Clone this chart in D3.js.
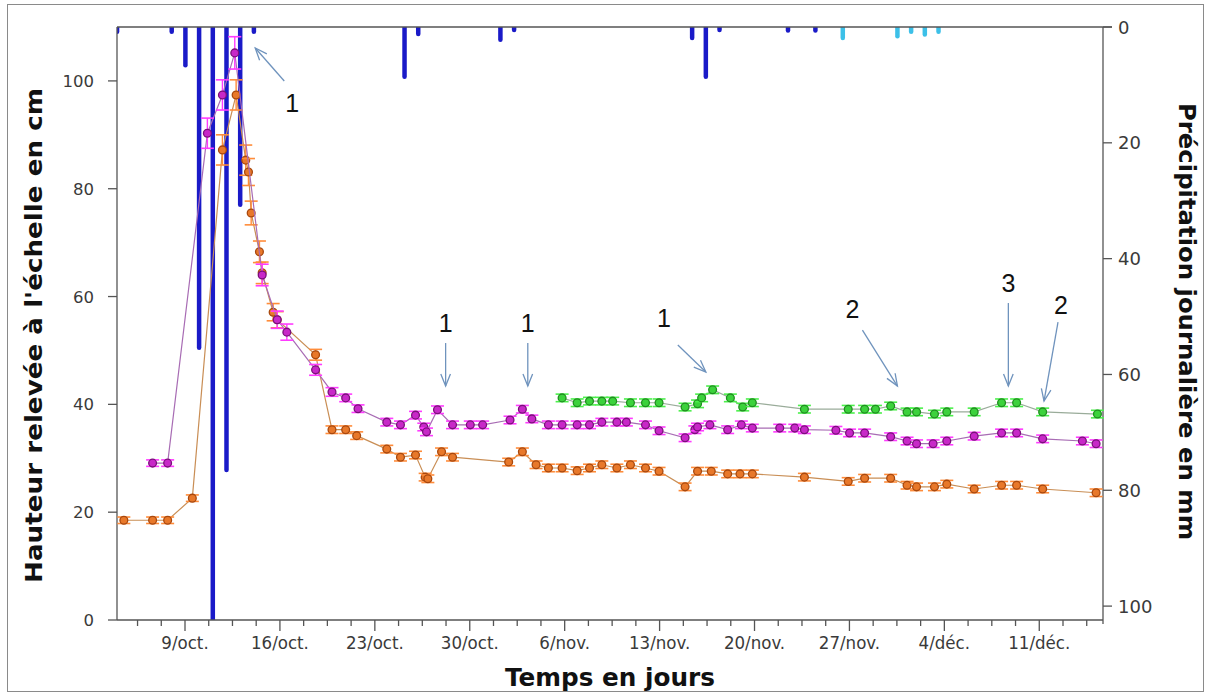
<!DOCTYPE html>
<html><head><meta charset="utf-8">
<script src="https://cdn.jsdelivr.net/npm/d3@7"></script>
<style>body{margin:0;background:#fff} svg{display:block}</style>
</head><body><svg id="c" width="1209" height="695"></svg>
<script>
// ---------- DATA ----------
// x values are day numbers counted from 0 October (1 = 1/oct., 32 = 1/nov., 62 = 1/déc.)
const xTickDays   = [9, 16, 23, 30, 37, 44, 51, 58, 65, 72];
const xTickLabels = ["9/oct.", "16/oct.", "23/oct.", "30/oct.", "6/nov.", "13/nov.", "20/nov.", "27/nov.", "4/déc.", "11/déc."];
const yLeftTicks  = [0, 20, 40, 60, 80, 100];
const yRightTicks = [0, 20, 40, 60, 80, 100];

// daily precipitation [day, mm]
const precipDark = [[3.99,0.8],[8.02,0.8],[9.03,6.6],[10.04,55.4],[11.05,103],[12.06,76.5],[13.07,30.7],[14.08,0.8],
                    [25.19,8.6],[26.2,1.2],[32.26,2.2],[33.27,0.5],[46.4,1.9],[47.41,8.6],[48.42,0.5],[53.47,0.6],[55.49,0.6]];
const precipCyan = [[57.51,1.9],[61.54,1.6],[62.55,0.8],[63.56,1.3],[64.57,0.8]];

// gauge height [day, cm, error cm]
const seriesOrange = [
 [4.49,18.5,0.6],[6.61,18.5,0.6],[7.72,18.5,0.6],[9.54,22.6,0.6],[11.76,87.2,2.8],[12.77,97.4,2.8],
 [13.48,85.3,2.8],[13.68,83.1,2.5],[13.88,75.5,2.2],[14.49,68.3,2],[14.69,64.4,2],[15.5,57.1,1.6],
 [15.8,55.7,1.5],[18.63,49.2,1],[19.84,35.3,0.7],[20.85,35.3,0.7],[21.66,34.2,0.7],[23.88,31.7,0.7],
 [24.89,30.2,0.7],[26.0,30.6,0.7],[26.71,26.5,0.7],[26.91,26.2,0.7],[27.92,31.2,0.7],[28.73,30.2,0.7],
 [32.87,29.3,0.7],[33.88,31.2,0.7],[34.89,28.8,0.7],[35.8,28.2,0.7],[36.81,28.2,0.7],[37.92,27.7,0.7],
 [38.83,28.2,0.7],[39.74,28.8,0.7],[40.85,28.2,0.7],[41.85,28.8,0.7],[42.96,28.2,0.7],[43.96,27.6,0.7],
 [45.88,24.7,0.7],[46.8,27.6,0.7],[47.81,27.6,0.7],[49.02,27.1,0.7],[49.93,27.1,0.7],[50.84,27.1,0.7],
 [54.68,26.5,0.7],[57.91,25.7,0.7],[59.12,26.3,0.7],[61.04,26.3,0.7],[62.25,25.0,0.7],[62.95,24.7,0.7],
 [64.27,24.7,0.7],[65.18,25.2,0.7],[67.2,24.3,0.7],[69.22,25.0,0.7],[70.33,25.0,0.7],[72.25,24.3,0.7],
 [76.19,23.6,0.7]];
const seriesMagenta = [
 [6.61,29.1,0.6],[7.72,29.1,0.6],[10.65,90.3,2.8],[11.76,97.4,2.8],[12.67,105.2,3],[14.69,64.0,2],
 [15.8,55.7,1.6],[16.51,53.4,1.5],[18.63,46.4,1],[19.84,42.3,0.8],[20.85,41.2,0.7],[21.76,39.2,0.7],
 [23.88,36.7,0.7],[24.89,36.2,0.7],[26.0,38.0,0.7],[26.61,35.8,0.7],[26.81,34.9,0.7],[27.62,39.0,0.7],
 [28.73,36.2,0.7],[30.04,36.2,0.7],[30.95,36.2,0.7],[32.97,37.1,0.7],[33.88,39.1,0.7],[34.58,37.3,0.7],
 [35.8,36.2,0.7],[36.81,36.2,0.7],[37.92,36.2,0.7],[38.83,36.2,0.7],[39.74,36.7,0.7],[40.85,36.7,0.7],
 [41.55,36.7,0.7],[42.96,36.2,0.7],[43.96,35.1,0.7],[45.88,33.8,0.7],[46.6,35.3,0.7],[46.8,35.8,0.7],
 [47.71,36.2,0.7],[49.02,35.3,0.7],[50.03,36.2,0.7],[50.84,35.6,0.7],[52.86,35.6,0.7],[53.97,35.6,0.7],
 [54.68,35.3,0.7],[57.0,35.2,0.7],[58.01,34.7,0.7],[59.12,34.7,0.7],[61.04,34.0,0.7],[62.25,33.2,0.7],
 [62.95,32.7,0.7],[64.17,32.7,0.7],[65.18,33.2,0.7],[67.2,34.1,0.7],[69.22,34.7,0.7],[70.33,34.7,0.7],
 [72.25,33.6,0.7],[75.18,33.2,0.7],[76.19,32.7,0.7]];
const seriesGreen = [
 [36.81,41.2,0.7],[37.92,40.3,0.7],[38.83,40.6,0.7],[39.74,40.6,0.7],[40.54,40.6,0.7],[41.85,40.3,0.7],
 [42.96,40.3,0.7],[43.96,40.3,0.7],[45.88,39.5,0.7],[46.8,40.1,0.7],[47.1,41.2,0.7],[47.91,42.7,0.7],
 [49.22,41.2,0.7],[50.13,39.5,0.7],[50.84,40.3,0.7],[54.68,39.1,0.7],[57.91,39.1,0.7],[59.12,39.1,0.7],
 [59.92,39.1,0.7],[61.04,39.7,0.7],[62.25,38.6,0.7],[62.95,38.6,0.7],[64.27,38.2,0.7],[65.18,38.6,0.7],
 [67.2,38.6,0.7],[69.22,40.3,0.7],[70.33,40.3,0.7],[72.25,38.6,0.7],[76.29,38.2,0.7]];

// annotations: label, arrow tip [day, cm], tail offset from tip (px), label offset from tip (px)
const annotations = [
 {t:"1", tip:[14.18,106.1], tail:[29,33], lab:[37,64]},
 {t:"1", tip:[28.22,43.4], tail:[0,-43], lab:[0,-54]},
 {t:"1", tip:[34.28,43.4], tail:[0,-43], lab:[0,-54]},
 {t:"1", tip:[47.41,46.0], tail:[-28,-27], lab:[-42,-45]},
 {t:"2", tip:[61.54,43.4], tail:[-35,-56], lab:[-45,-68]},
 {t:"3", tip:[69.72,43.4], tail:[0,-83], lab:[0,-94]},
 {t:"2", tip:[72.35,40.6], tail:[14,-79], lab:[17,-87]}
];

// ---------- CHART ----------
const svg = d3.select("#c");
const L = 117, R = 1103, T = 27, B = 620;
const x  = d3.scaleLinear().domain([3.985, 76.7]).range([L, R]);
const yL = d3.scaleLinear().domain([0, 110]).range([B, T]);
const yR = d3.scaleLinear().domain([0, 102.4]).range([T, B]);

svg.append("rect").attr("x",7.5).attr("y",4.5).attr("width",1196).attr("height",687)
   .attr("fill","#fff").attr("stroke","#8a8a8a").attr("stroke-width",1);

svg.append("defs").append("clipPath").attr("id","plot")
   .append("rect").attr("x",L).attr("y",T).attr("width",R-L).attr("height",B-T);

const axisColor = "#555";
const tickFont = "DejaVu Sans, sans-serif";

// precipitation bars
const pg = svg.append("g").attr("clip-path","url(#plot)");
function bars(data, color){
  pg.selectAll(null).data(data).enter().append("line")
    .attr("x1", d=>x(d[0])).attr("x2", d=>x(d[0]))
    .attr("y1", yR(0)).attr("y2", d=>yR(d[1]))
    .attr("stroke", color).attr("stroke-width",4.5).attr("stroke-linecap","round");
}
bars(precipDark, "#1a1ac8");
bars(precipCyan, "#3cc0e8");

// axes
const ax = svg.append("g");
ax.append("line").attr("x1",L).attr("x2",R+9).attr("y1",T).attr("y2",T).attr("stroke",axisColor).attr("stroke-width",1.3);
ax.append("line").attr("x1",L).attr("x2",L).attr("y1",T).attr("y2",B).attr("stroke",axisColor).attr("stroke-width",1.3);
ax.append("line").attr("x1",R).attr("x2",R).attr("y1",T).attr("y2",B+4).attr("stroke",axisColor).attr("stroke-width",1.3);
ax.append("line").attr("x1",L).attr("x2",R).attr("y1",B).attr("y2",B).attr("stroke",axisColor).attr("stroke-width",1.3);

// left ticks
ax.selectAll(null).data(yLeftTicks).enter().append("line")
  .attr("x1",L-9).attr("x2",L).attr("y1",d=>yL(d)).attr("y2",d=>yL(d)).attr("stroke",axisColor).attr("stroke-width",1.3);
ax.selectAll(null).data(yLeftTicks).enter().append("text")
  .attr("x",L-23).attr("y",d=>yL(d)+6).attr("text-anchor","end")
  .attr("font-family",tickFont).attr("font-size",16.5).attr("fill","#3a3a3a").text(d=>d);
// right ticks
ax.selectAll(null).data(yRightTicks).enter().append("line")
  .attr("x1",R).attr("x2",R+9).attr("y1",d=>yR(d)).attr("y2",d=>yR(d)).attr("stroke",axisColor).attr("stroke-width",1.3);
ax.selectAll(null).data(yRightTicks).enter().append("text")
  .attr("x",R+15).attr("y",d=>yR(d)+6.5).attr("text-anchor","start")
  .attr("font-family",tickFont).attr("font-size",18).attr("fill","#3a3a3a").text(d=>d);
// bottom ticks
const minor = d3.range(5.5, 76.7, 1.75);
ax.selectAll(null).data(minor).enter().append("line")
  .attr("x1",d=>x(d)).attr("x2",d=>x(d)).attr("y1",B).attr("y2",d=> xTickDays.includes(d)?B+11:B+6)
  .attr("stroke",axisColor).attr("stroke-width",1.3);
ax.selectAll(null).data(xTickDays).enter().append("text")
  .attr("x",d=>x(d)).attr("y",B+29).attr("text-anchor","middle")
  .attr("font-family","DejaVu Sans Condensed, DejaVu Sans, sans-serif").style("font-stretch","condensed")
  .attr("font-size",18.5).attr("fill","#3a3a3a").text((d,i)=>xTickLabels[i]);

// axis titles
svg.append("text").attr("transform",`translate(42,${(T+B)/2+12}) rotate(-90)`).attr("text-anchor","middle")
  .attr("font-family","DejaVu Sans, sans-serif").attr("font-weight","bold").attr("font-size",23)
  .attr("textLength",495).attr("lengthAdjust","spacingAndGlyphs")
  .attr("fill","#111").text("Hauteur relevée à l'échelle en cm");
svg.append("text").attr("transform",`translate(1179,${(T+B)/2-2}) rotate(90)`).attr("text-anchor","middle")
  .attr("font-family","DejaVu Sans, sans-serif").attr("font-weight","bold").attr("font-size",23)
  .attr("textLength",437).attr("lengthAdjust","spacingAndGlyphs")
  .attr("fill","#111").text("Précipitation journalière en mm");
svg.append("text").attr("x",610).attr("y",686).attr("text-anchor","middle")
  .attr("font-family","DejaVu Sans, sans-serif").attr("font-weight","bold").attr("font-size",24)
  .attr("textLength",210).attr("lengthAdjust","spacingAndGlyphs")
  .attr("fill","#111").text("Temps en jours");

// series
const sg = svg.append("g");
function series(data, lineColor, barColor, fill, stroke){
  const line = d3.line().x(d=>x(d[0])).y(d=>yL(d[1]));
  sg.append("path").datum(data).attr("d",line).attr("fill","none").attr("stroke",lineColor).attr("stroke-width",1.2);
  const g = sg.append("g");
  const p = g.selectAll(null).data(data).enter().append("g");
  p.append("line").attr("x1",d=>x(d[0])).attr("x2",d=>x(d[0]))
    .attr("y1",d=>yL(d[1]+d[2])).attr("y2",d=>yL(d[1]-d[2])).attr("stroke",barColor).attr("stroke-width",1.4);
  p.append("line").attr("x1",d=>x(d[0])-6.5).attr("x2",d=>x(d[0])+6.5)
    .attr("y1",d=>yL(d[1]+d[2])).attr("y2",d=>yL(d[1]+d[2])).attr("stroke",barColor).attr("stroke-width",1.6);
  p.append("line").attr("x1",d=>x(d[0])-6.5).attr("x2",d=>x(d[0])+6.5)
    .attr("y1",d=>yL(d[1]-d[2])).attr("y2",d=>yL(d[1]-d[2])).attr("stroke",barColor).attr("stroke-width",1.6);
  p.append("circle").attr("cx",d=>x(d[0])).attr("cy",d=>yL(d[1])).attr("r",3.9)
    .attr("fill",fill).attr("stroke",stroke).attr("stroke-width",1.3);
}
series(seriesOrange, "#c98e55", "#ff8c3a", "#e8782a", "#a8480e");
series(seriesMagenta, "#a86cb4", "#ff3cff", "#c828c8", "#7a107a");
series(seriesGreen, "#9aac9a", "#4cf04c", "#3cd23c", "#1f8f1f");

// annotations
const an = svg.append("g");
annotations.forEach(a=>{
  const tx = x(a.tip[0]), ty = yL(a.tip[1]);
  const sx = tx + a.tail[0], sy = ty + a.tail[1];
  const ang = Math.atan2(ty - sy, tx - sx);
  const hl = 13, ha = 0.38;
  an.append("line").attr("x1",sx).attr("y1",sy).attr("x2",tx).attr("y2",ty)
    .attr("stroke","#6f93bd").attr("stroke-width",1.3);
  an.append("path").attr("d",
      `M${tx - hl*Math.cos(ang-ha)},${ty - hl*Math.sin(ang-ha)} L${tx},${ty} L${tx - hl*Math.cos(ang+ha)},${ty - hl*Math.sin(ang+ha)}`)
    .attr("fill","none").attr("stroke","#6f93bd").attr("stroke-width",1.3);
  an.append("text").attr("x",tx + a.lab[0]).attr("y",ty + a.lab[1]).attr("text-anchor","middle")
    .attr("font-family","Liberation Sans, Arial, sans-serif").attr("font-size",25).attr("fill","#111").text(a.t);
});
</script></body></html>
